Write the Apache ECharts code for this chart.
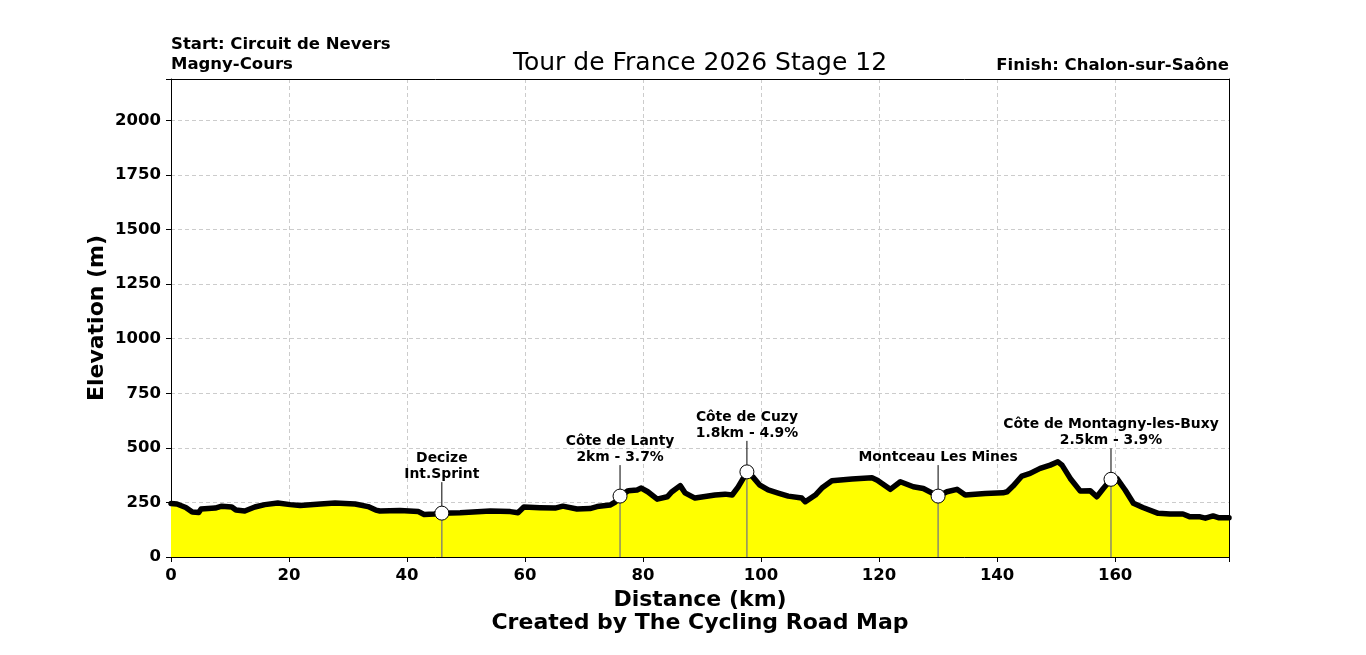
<!DOCTYPE html>
<html>
<head>
<meta charset="utf-8">
<title>Tour de France 2026 Stage 12</title>
<script src="https://cdn.jsdelivr.net/npm/echarts@6/dist/echarts.min.js"></script>
<style>
  html, body { margin: 0; padding: 0; background: #fff; }
  #chart { width: 1366px; height: 655px; }
</style>
</head>
<body>
<div id="chart"></div>
<script>
// profile: distance (km) and elevation (m)
const distanceKm = [
  0, 1.0, 2.5, 3.6, 4.7, 5.1, 7.5, 8.6, 10.3, 11.0, 12.5, 14.2, 15.9, 18.1, 20.2, 21.9,
  25.3, 27.8, 31.2, 33.4, 34.7, 35.4, 38.8, 41.9, 42.9, 44.6, 45.9, 49.0, 54.1, 57.5,
  58.8, 59.8, 62.5, 65.1, 66.4, 68.8, 71.0, 72.2, 74.4, 75.3, 76.1, 77.5, 79.0, 79.7,
  80.8, 82.4, 84.1, 84.9, 86.3, 87.1, 88.8, 92.2, 93.9, 95.1, 96.1, 96.8, 97.6, 98.6,
  99.8, 101.2, 102.9, 104.6, 106.9, 107.5, 109.2, 110.3, 112.0, 115.4, 118.8, 119.7,
  121.9, 123.6, 125.8, 127.5, 130.0, 131.5, 133.2, 134.6, 138.0, 141.0, 141.7, 142.7,
  144.2, 145.6, 147.3, 149.0, 150.3, 151.0, 152.4, 154.1, 155.8, 156.9, 158.0, 159.3,
  160.3, 161.7, 163.1, 164.7, 167.3, 169.3, 171.5, 172.7, 174.4, 175.3, 176.6, 177.5, 179.3
];
const elevationM = [
  245, 243, 227, 206, 204, 220, 224, 233, 229, 215, 211, 229, 240, 247, 240, 236,
  243, 247, 243, 231, 215, 211, 213, 208, 195, 197, 201, 203, 211, 208,
  203, 229, 226, 224, 233, 220, 222, 231, 238, 252, 279, 304, 307, 316,
  299, 265, 276, 299, 327, 294, 270, 284, 288, 284, 320, 352, 390, 367,
  329, 307, 293, 279, 270, 253, 284, 316, 349, 357, 363, 352,
  310, 345, 322, 314, 279, 299, 310, 284, 291, 294, 299, 325,
  371, 383, 406, 421, 436, 421, 360, 302, 303, 276, 314, 356,
  360, 307, 246, 227, 200, 197, 197, 184, 184, 178, 188, 180, 180
];

const markerKm = [45.9, 76.1, 97.6, 130.0, 159.3];
const markerElev = [201, 279, 390, 279, 356];
const markerLabels = [
  'Decize\nInt.Sprint',
  'Côte de Lanty\n2km - 3.7%',
  'Côte de Cuzy\n1.8km - 4.9%',
  'Montceau Les Mines',
  'Côte de Montagny-les-Buxy\n2.5km - 3.9%'
];

const xMax = 179.3;
const yMax = 2190;
const FONT = 'DejaVu Sans';

const chart = echarts.init(document.getElementById('chart'));

const profile = distanceKm.map((d, i) => [d, elevationM[i]]);
const markers = markerKm.map((d, i) => [d, markerElev[i], markerLabels[i]]);

function tickLabel(v, step) {
  return Math.abs(v / step - Math.round(v / step)) < 1e-6 ? String(v) : '';
}

const gridLine = { show: true, lineStyle: { color: '#cccccc', type: [4, 3], width: 1 } };
const tickFont = { fontFamily: FONT, fontWeight: 'bold', fontSize: 16.5, color: '#000' };
const nameFont = { fontFamily: FONT, fontWeight: 'bold', fontSize: 22, color: '#000' };
// plain frame axes for the top and right edges
const frame = {
  axisLine: { show: true, onZero: false, lineStyle: { color: '#000', width: 1 } },
  axisTick: { show: false }, axisLabel: { show: false }, splitLine: { show: false }
};

chart.setOption({
  backgroundColor: '#fff',
  animation: false,
  grid: { left: 171, right: 137, top: 79, bottom: 98 },
  xAxis: [
    {
      type: 'value',
      min: 0, max: xMax, interval: 20,
      name: 'Distance (km)',
      nameLocation: 'middle',
      nameGap: 32,
      nameMoveOverlap: false,
      nameTextStyle: nameFont,
      axisLine: { show: true, onZero: false, lineStyle: { color: '#000', width: 1 } },
      axisTick: { show: true, length: 5, lineStyle: { color: '#000' } },
      axisLabel: Object.assign({ margin: 10, formatter: v => tickLabel(v, 20) }, tickFont),
      splitLine: gridLine
    },
    Object.assign({ type: 'value', position: 'top', min: 0, max: xMax }, frame)
  ],
  yAxis: [
    {
      type: 'value',
      min: 0, max: yMax, interval: 250,
      name: 'Elevation (m)',
      nameLocation: 'middle',
      nameGap: 63,
      nameMoveOverlap: false,
      nameTextStyle: nameFont,
      axisLine: { show: true, onZero: false, lineStyle: { color: '#000', width: 1 } },
      axisTick: { show: true, length: 5, lineStyle: { color: '#000' } },
      axisLabel: Object.assign({ margin: 10, formatter: v => tickLabel(v, 250) }, tickFont),
      splitLine: gridLine
    },
    Object.assign({ type: 'value', position: 'right', min: 0, max: yMax }, frame)
  ],
  graphic: [
    {
      type: 'text', left: 171, top: 35,
      style: {
        text: 'Start: Circuit de Nevers\nMagny-Cours', fill: '#000',
        font: 'bold 16.5px "DejaVu Sans"', lineHeight: 20
      }
    },
    {
      type: 'text', right: 137, top: 56,
      style: {
        text: 'Finish: Chalon-sur-Saône', fill: '#000',
        font: 'bold 16.5px "DejaVu Sans"', lineHeight: 20, align: 'right'
      }
    },
    {
      type: 'text', x: 700, y: 63,
      style: {
        text: 'Tour de France 2026 Stage 12', fill: '#000',
        font: '25px "DejaVu Sans"', align: 'center', verticalAlign: 'middle'
      }
    },
    {
      type: 'text', x: 700, y: 623,
      style: {
        text: 'Created by The Cycling Road Map', fill: '#000',
        font: 'bold 22px "DejaVu Sans"', align: 'center', verticalAlign: 'middle'
      }
    }
  ],
  series: [
    {
      type: 'line',
      data: profile,
      showSymbol: false,
      smooth: false,
      lineStyle: { color: '#000', width: 5.5, cap: 'round', join: 'round' },
      areaStyle: { color: '#ffff00', opacity: 1, origin: 'start' },
      z: 2
    },
    {
      type: 'custom',
      data: markers,
      z: 3,
      renderItem: (params, api) => {
        const p = api.coord([api.value(0), api.value(1)]);
        const b = api.coord([api.value(0), 0]);
        return {
          type: 'group',
          children: [
            {
              type: 'line',
              shape: { x1: p[0], y1: p[1], x2: b[0], y2: b[1] },
              style: { stroke: '#7a7a7a', lineWidth: 1.3 }
            },
            {
              type: 'line',
              shape: { x1: p[0], y1: p[1] - 7, x2: p[0], y2: p[1] - 31 },
              style: { stroke: '#000', lineWidth: 1 }
            }
          ]
        };
      }
    },
    {
      type: 'scatter',
      data: markers,
      symbol: 'circle',
      symbolSize: 14,
      itemStyle: { color: '#fff', borderColor: '#000', borderWidth: 1, opacity: 1 },
      label: {
        show: true,
        position: 'top',
        distance: 23,
        formatter: p => p.data[2],
        fontFamily: FONT, fontWeight: 'bold', fontSize: 13.9, lineHeight: 16,
        color: '#000', align: 'center'
      },
      z: 4
    }
  ]
});

window.addEventListener('resize', () => chart.resize());
</script>
</body>
</html>
